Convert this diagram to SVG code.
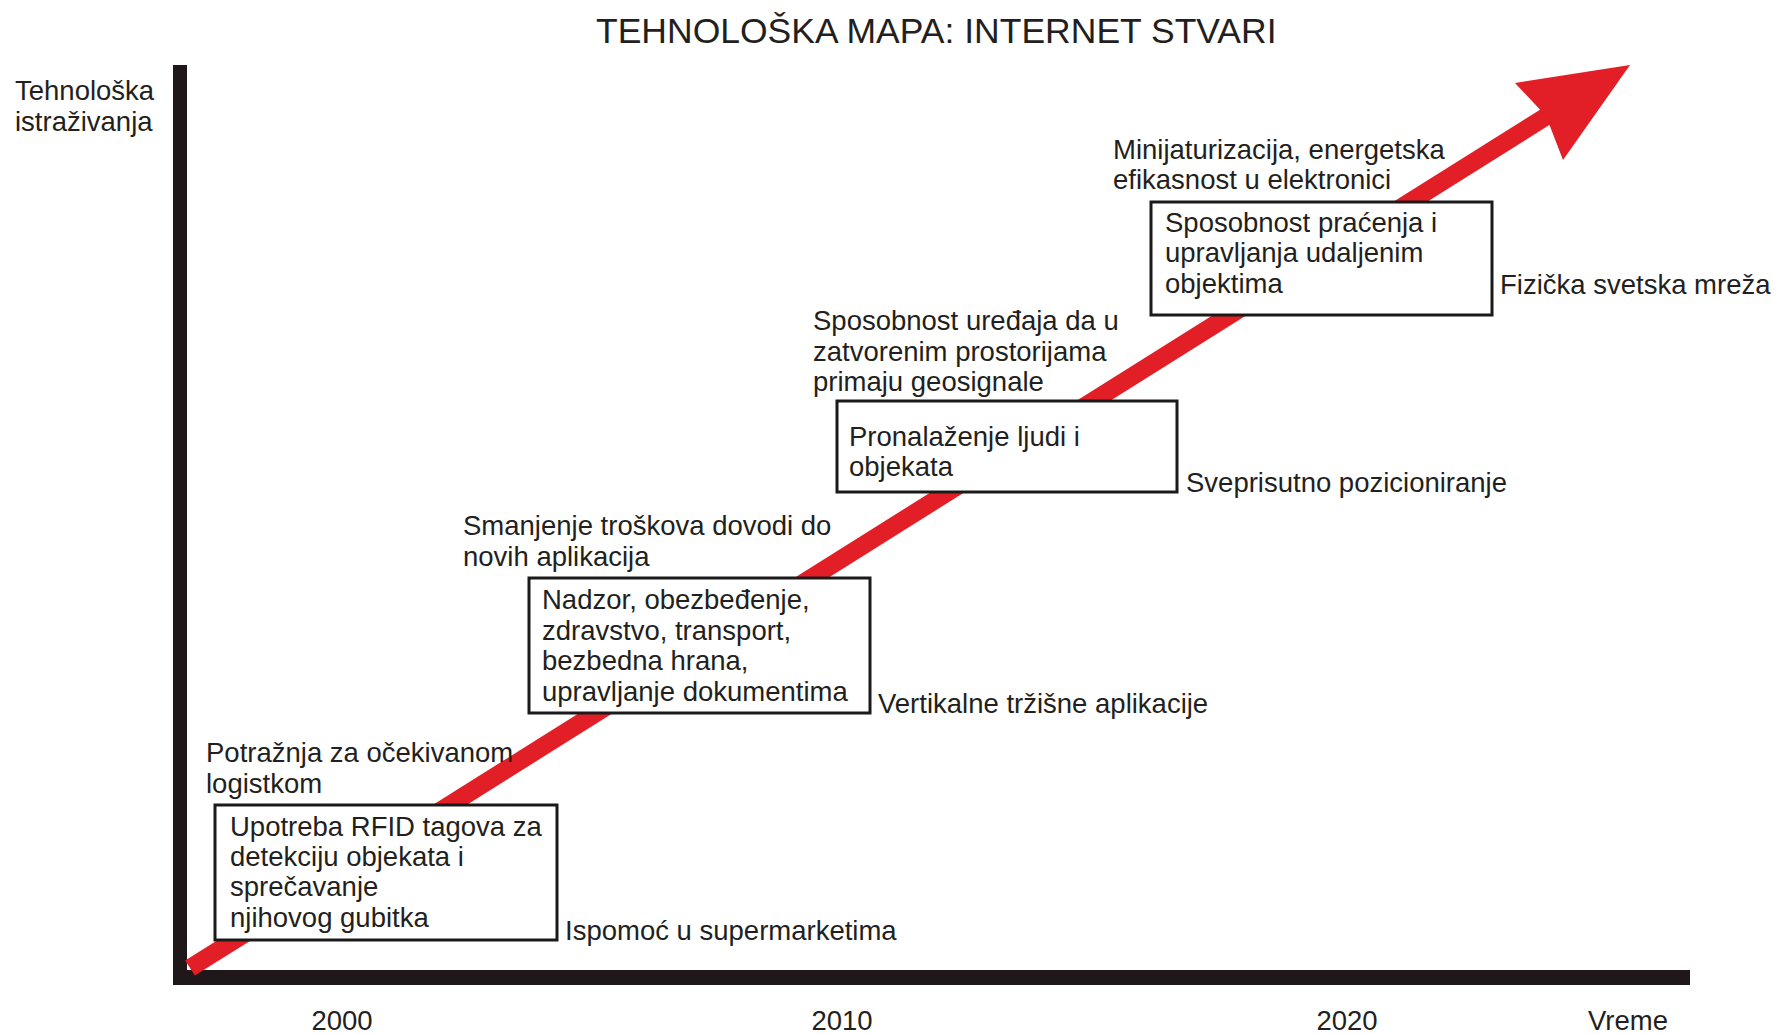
<svg xmlns="http://www.w3.org/2000/svg" width="1778" height="1034" viewBox="0 0 1778 1034">
<style>
text{font-family:"Liberation Sans",Arial,sans-serif;fill:#231f20;font-size:27.5px}
.title{font-size:35.5px}
.box{fill:#fff;stroke:#1a1a1a;stroke-width:3}
.axis{fill:#1f1719}
</style>
<rect width="1778" height="1034" fill="#fff"/>
<g id="axes">
<rect class="axis" x="173" y="65" width="14" height="920"/>
<rect class="axis" x="173" y="970" width="1517" height="15"/>
</g>
<g id="connectors">
<line x1="190" y1="968" x2="1550" y2="114" stroke="#e21f26" stroke-width="18"/>
<polygon points="1630,65 1515,83 1546,116 1563,160" fill="#e21f26"/>
</g>
<text class="title" x="596" y="43">TEHNOLOŠKA MAPA: INTERNET STVARI</text>
<g id="y-label"><text x="15" y="100">Tehnološka</text><text x="15" y="131">istraživanja</text></g>
<g id="n1">
<text x="206" y="762">Potražnja za očekivanom</text><text x="206" y="793">logistkom</text>
<rect class="box" x="215" y="805" width="342" height="135"/>
<text x="230" y="836">Upotreba RFID tagova za</text>
<text x="230" y="866">detekciju objekata i</text>
<text x="230" y="896">sprečavanje</text>
<text x="230" y="927">njihovog gubitka</text>
<text x="565" y="940">Ispomoć u supermarketima</text>
</g>
<g id="n2">
<text x="463" y="535">Smanjenje troškova dovodi do</text><text x="463" y="566">novih aplikacija</text>
<rect class="box" x="529" y="578" width="341" height="135"/>
<text x="542" y="609">Nadzor, obezbeđenje,</text>
<text x="542" y="640">zdravstvo, transport,</text>
<text x="542" y="670">bezbedna hrana,</text>
<text x="542" y="701">upravljanje dokumentima</text>
<text x="878" y="713">Vertikalne tržišne aplikacije</text>
</g>
<g id="n3">
<text x="813" y="330">Sposobnost uređaja da u</text><text x="813" y="361">zatvorenim prostorijama</text><text x="813" y="391">primaju geosignale</text>
<rect class="box" x="837" y="401" width="340" height="91"/>
<text x="849" y="446">Pronalaženje ljudi i</text>
<text x="849" y="476">objekata</text>
<text x="1186" y="492">Sveprisutno pozicioniranje</text>
</g>
<g id="n4">
<text x="1113" y="159">Minijaturizacija, energetska</text><text x="1113" y="189">efikasnost u elektronici</text>
<rect class="box" x="1151" y="202" width="341" height="113"/>
<text x="1165" y="232">Sposobnost praćenja i</text>
<text x="1165" y="262">upravljanja udaljenim</text>
<text x="1165" y="293">objektima</text>
<text x="1500" y="294">Fizička svetska mreža</text>
</g>
<g id="x-labels">
<text x="342" y="1030" text-anchor="middle">2000</text>
<text x="842" y="1030" text-anchor="middle">2010</text>
<text x="1347" y="1030" text-anchor="middle">2020</text>
<text x="1588" y="1030">Vreme</text>
</g>
</svg>
